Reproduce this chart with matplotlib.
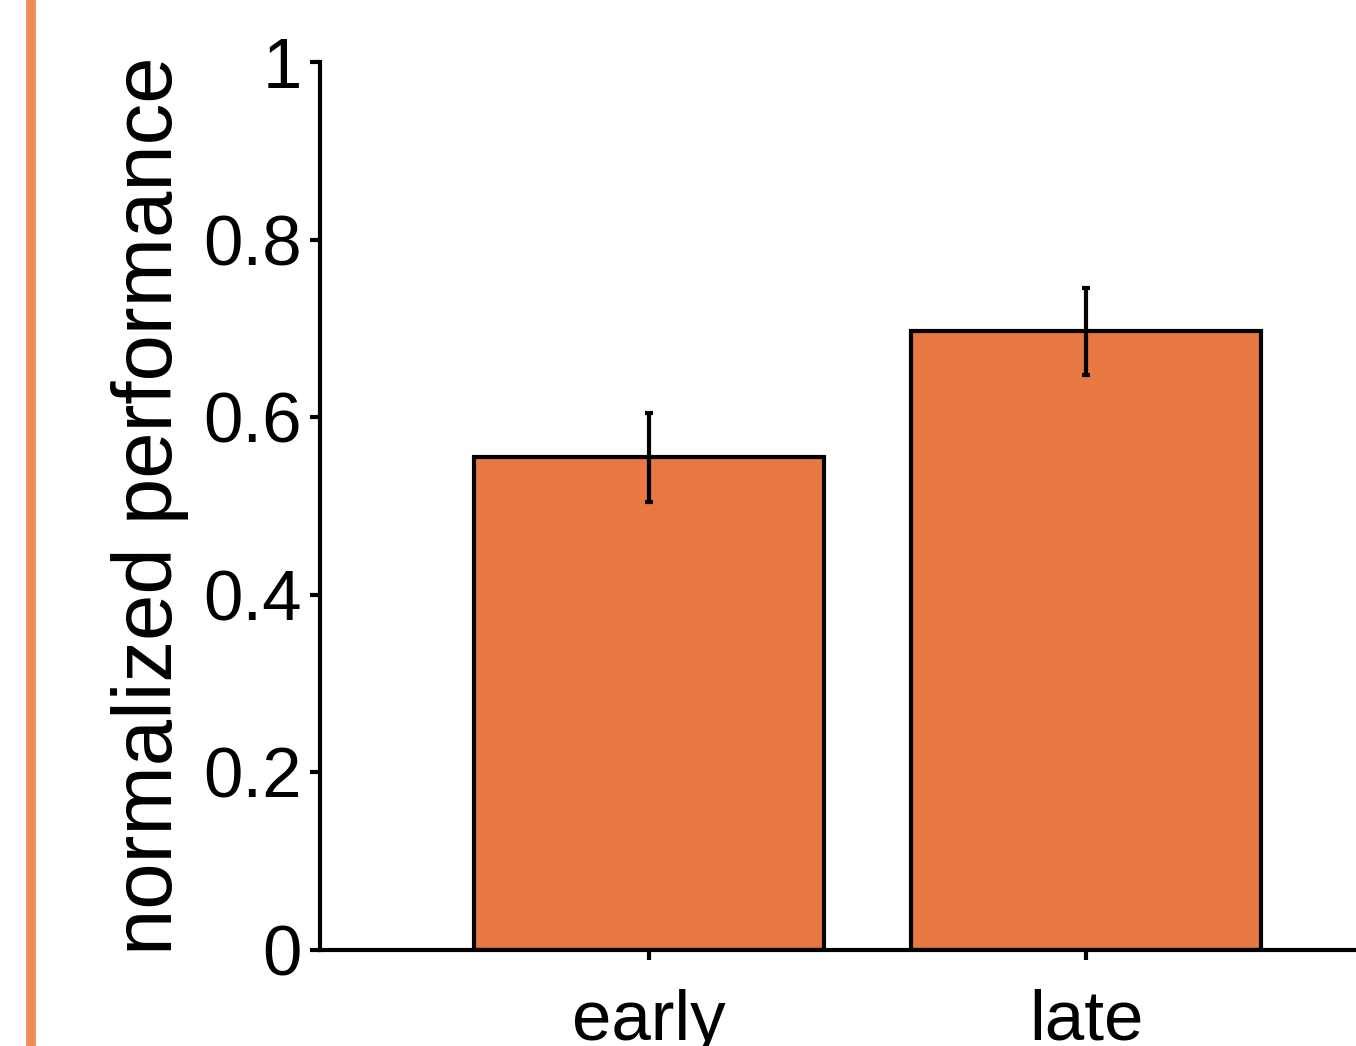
import numpy as np
import matplotlib.pyplot as plt
from matplotlib.lines import Line2D

# data
conditions = ['early', 'late']
performance = [0.555, 0.697]
sem = [0.050, 0.049]

plt.rcParams['font.family'] = ['Liberation Sans', 'DejaVu Sans']

fig = plt.figure(figsize=(13.56, 10.46), dpi=100)
ax = fig.add_axes([0.236, 0.0918, 0.764, 0.8489])

x = np.arange(len(conditions))
ax.bar(x, performance, width=0.8, color='#E77841', edgecolor='black', linewidth=3)
ax.errorbar(x, performance, yerr=sem, fmt='none', ecolor='black',
            elinewidth=3, capsize=3, capthick=3)

ax.set_xlim(-0.753, 1.618)
ax.set_ylim(0, 1)
ax.set_xticks(x)
ax.set_xticklabels(conditions)
ax.set_yticks([0, 0.2, 0.4, 0.6, 0.8, 1])
ax.set_yticklabels(['0', '0.2', '0.4', '0.6', '0.8', '1'])
ax.tick_params(axis='both', labelsize=51, width=3, length=7, direction='out')
ax.tick_params(axis='y', pad=6)
ax.tick_params(axis='x', pad=21)
ax.set_ylabel('normalized performance', fontsize=60, labelpad=10)

ax.spines['top'].set_visible(False)
ax.spines['right'].set_visible(False)
ax.spines['left'].set_linewidth(3)
ax.spines['bottom'].set_linewidth(3)

# orange bar at left edge
fig.add_artist(Line2D([0.0225, 0.0225], [0, 1], transform=fig.transFigure,
                      color='#F08D55', linewidth=7, solid_capstyle='butt'))

fig.savefig('out.png', dpi=100)
